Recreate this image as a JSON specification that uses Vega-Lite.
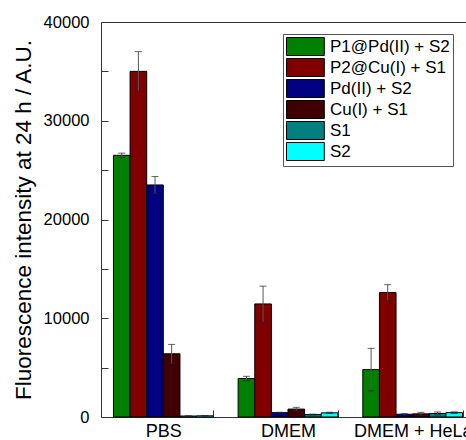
{
  "$schema": "https://vega.github.io/schema/vega-lite/v6.json",
  "width": 365,
  "height": 395,
  "autosize": {"type": "none"},
  "padding": {"left": 101, "top": 22, "right": 0, "bottom": 23},
  "config": {
    "view": {"stroke": null},
    "font": "Liberation Sans",
    "axis": {"grid": false, "domainColor": "#333", "tickColor": "#333", "labelColor": "black", "titleColor": "black", "labelFont": "Liberation Sans", "titleFont": "Liberation Sans"}
  },
  "data": {
    "values": [
      {"group": "PBS", "series": "P1@Pd(II) + S2", "value": 26500, "lo": 26280, "hi": 26720},
      {"group": "PBS", "series": "P2@Cu(I) + S1", "value": 35000, "lo": 33000, "hi": 37000},
      {"group": "PBS", "series": "Pd(II) + S2", "value": 23500, "lo": 22650, "hi": 24350},
      {"group": "PBS", "series": "Cu(I) + S1", "value": 6400, "lo": 5400, "hi": 7350},
      {"group": "PBS", "series": "S1", "value": 100, "lo": 90, "hi": 110},
      {"group": "PBS", "series": "S2", "value": 120, "lo": 110, "hi": 130},
      {"group": "DMEM", "series": "P1@Pd(II) + S2", "value": 3900, "lo": 3680, "hi": 4120},
      {"group": "DMEM", "series": "P2@Cu(I) + S1", "value": 11450, "lo": 9600, "hi": 13250},
      {"group": "DMEM", "series": "Pd(II) + S2", "value": 440, "lo": 400, "hi": 480},
      {"group": "DMEM", "series": "Cu(I) + S1", "value": 800, "lo": 620, "hi": 980},
      {"group": "DMEM", "series": "S1", "value": 250, "lo": 210, "hi": 290},
      {"group": "DMEM", "series": "S2", "value": 420, "lo": 360, "hi": 480},
      {"group": "DMEM + HeLa", "series": "P1@Pd(II) + S2", "value": 4800, "lo": 2650, "hi": 6950},
      {"group": "DMEM + HeLa", "series": "P2@Cu(I) + S1", "value": 12600, "lo": 11800, "hi": 13400},
      {"group": "DMEM + HeLa", "series": "Pd(II) + S2", "value": 280, "lo": 220, "hi": 340},
      {"group": "DMEM + HeLa", "series": "Cu(I) + S1", "value": 320, "lo": 170, "hi": 470},
      {"group": "DMEM + HeLa", "series": "S1", "value": 360, "lo": 210, "hi": 510},
      {"group": "DMEM + HeLa", "series": "S2", "value": 440, "lo": 360, "hi": 520}
    ]
  },
  "resolve": {"axis": {"x": "independent"}},
  "layer": [
    {
      "mark": {"type": "bar", "stroke": "black", "strokeWidth": 1},
      "encoding": {
        "x": {
          "field": "group", "type": "nominal",
          "scale": {"domain": ["PBS", "DMEM", "DMEM + HeLa"], "range": [0, 374], "paddingInner": 0.2, "paddingOuter": 0.1},
          "axis": {"title": null, "labelAngle": 0, "labelFontSize": 18, "tickBand": "extent", "tickSize": -7, "labelPadding": 12, "domainColor": "#333"}
        },
        "xOffset": {
          "field": "series", "type": "nominal",
          "scale": {"domain": ["P1@Pd(II) + S2", "P2@Cu(I) + S1", "Pd(II) + S2", "Cu(I) + S1", "S1", "S2"], "paddingInner": 0, "paddingOuter": 0}
        },
        "y": {
          "field": "value", "type": "quantitative",
          "scale": {"domain": [0, 40000], "nice": false},
          "axis": {
            "title": "Fluorescence intensity at 24 h / A.U.",
            "titleFontSize": 22.5, "titleFontWeight": "normal", "titlePadding": 8,
            "values": [0, 5000, 10000, 15000, 20000, 25000, 30000, 35000, 40000],
            "format": "d",
            "labelExpr": "datum.value % 10000 === 0 ? datum.label : ''",
            "labelFontSize": 16.5, "tickSize": -7, "labelPadding": 19
          }
        },
        "color": {
          "field": "series", "type": "nominal",
          "scale": {"domain": ["P1@Pd(II) + S2", "P2@Cu(I) + S1", "Pd(II) + S2", "Cu(I) + S1", "S1", "S2"], "range": ["#008000", "#800000", "#000080", "#400000", "#008080", "#00FFFF"]},
          "legend": {
            "orient": "none", "legendX": 182, "legendY": 12, "title": null,
            "symbolType": "M-1,-1H3.2V1H-1Z", "symbolSize": 324,
            "symbolStrokeColor": "black", "symbolStrokeWidth": 1, "symbolOpacity": 1,
            "labelFontSize": 17, "labelOffset": 25, "labelColor": "black", "labelLimit": 300,
            "rowPadding": -2.8, "padding": 3, "strokeColor": "#555"
          }
        }
      }
    },
    {
      "mark": {"type": "rule", "color": "#555", "strokeWidth": 1},
      "encoding": {
        "x": {"field": "group", "type": "nominal", "axis": {"orient": "top", "labels": false, "ticks": false, "title": null, "domainColor": "#333"}},
        "xOffset": {"field": "series", "type": "nominal"},
        "y": {"field": "lo", "type": "quantitative"},
        "y2": {"field": "hi"}
      }
    },
    {
      "mark": {"type": "tick", "color": "#222", "size": 7, "thickness": 1},
      "encoding": {
        "x": {"field": "group", "type": "nominal", "axis": null},
        "xOffset": {"field": "series", "type": "nominal"},
        "y": {"field": "lo", "type": "quantitative"}
      }
    },
    {
      "mark": {"type": "tick", "color": "#222", "size": 7, "thickness": 1},
      "encoding": {
        "x": {"field": "group", "type": "nominal", "axis": null},
        "xOffset": {"field": "series", "type": "nominal"},
        "y": {"field": "hi", "type": "quantitative"}
      }
    }
  ]
}
